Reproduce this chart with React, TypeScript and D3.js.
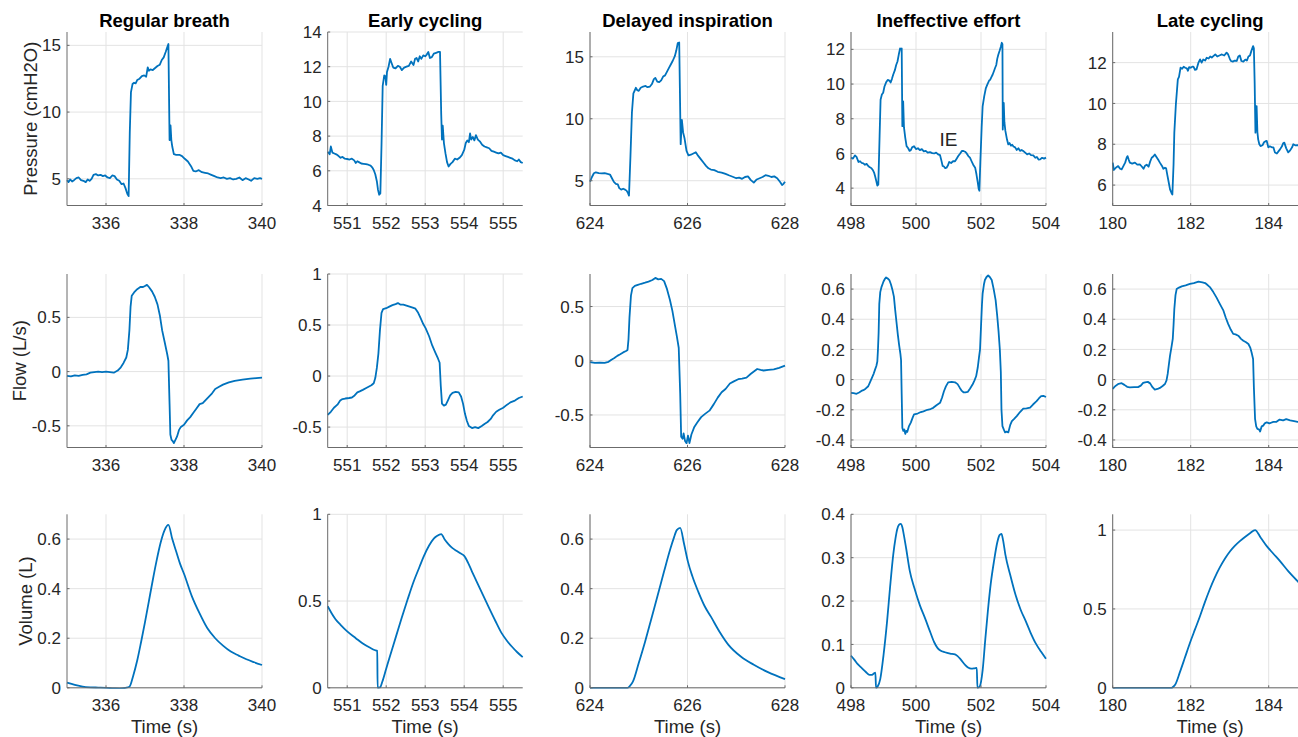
import React from "react";
import * as d3 from "d3";

type Pt = [number, number];

const titles = ["Regular breath", "Early cycling", "Delayed inspiration", "Ineffective effort", "Late cycling"];
const rowLabels = ["Pressure (cmH2O)", "Flow (L/s)", "Volume (L)"];
const xLabel = "Time (s)";

const xDomains: Pt[] = [[335, 340], [550.5, 555.5], [624, 628], [498, 504], [180, 185]];
const xTicks = [[336, 338, 340], [551, 552, 553, 554, 555], [624, 626, 628], [498, 500, 502, 504], [180, 182, 184]];

const pressureDomains: Pt[] = [[3, 16], [4, 14], [3, 17], [3, 13], [5, 13.5]];
const pressureTicks = [[5, 10, 15], [4, 6, 8, 10, 12, 14], [5, 10, 15], [4, 6, 8, 10, 12], [6, 8, 10, 12]];
const flowDomains: Pt[] = [[-0.7, 0.9], [-0.7, 1], [-0.8, 0.8], [-0.45, 0.7], [-0.45, 0.7]];
const flowTicks = [[-0.5, 0, 0.5], [-0.5, 0, 0.5, 1], [-0.5, 0, 0.5], [-0.4, -0.2, 0, 0.2, 0.4, 0.6], [-0.4, -0.2, 0, 0.2, 0.4, 0.6]];
const volumeDomains: Pt[] = [[0, 0.7], [0, 1], [0, 0.7], [0, 0.4], [0, 1.1]];
const volumeTicks = [[0, 0.2, 0.4, 0.6], [0, 0.5, 1], [0, 0.2, 0.4, 0.6], [0, 0.1, 0.2, 0.3, 0.4], [0, 0.5, 1]];

const annotationText = "IE";
const annotationPoint: Pt = [501.0, 6.85];

// ---------- Regular breath ----------
const pressureRegular: Pt[] = [
[335.00,4.9],[335.04,4.75],[335.08,4.95],[335.13,4.8],[335.18,4.9],[335.24,5.05],[335.3,5.1],[335.36,4.9],[335.42,4.85],[335.48,4.75],[335.53,4.95],[335.58,4.85],[335.63,5.0],[335.68,5.3],[335.74,5.35],[335.8,5.25],[335.86,5.3],[335.92,5.2],[335.98,5.25],[336.04,5.1],[336.1,5.05],[336.16,5.25],[336.22,5.2],[336.28,4.95],[336.34,4.85],[336.4,4.6],[336.45,4.65],[336.5,4.3],[336.55,3.85],[336.58,3.7],[336.61,8.5],[336.64,11.5],[336.68,12.1],[336.72,12.2],[336.76,12.15],[336.8,12.4],[336.86,12.5],[336.92,12.7],[336.98,12.75],[337.03,12.65],[337.07,13.35],[337.1,13.1],[337.14,13.2],[337.2,13.15],[337.26,13.3],[337.32,13.45],[337.38,13.55],[337.43,13.9],[337.48,14.1],[337.53,14.5],[337.57,14.85],[337.6,15.1],[337.63,7.9],[337.655,9.0],[337.675,7.9],[337.7,7.4],[337.74,6.85],[337.8,6.8],[337.88,6.8],[337.95,6.7],[338.02,6.5],[338.1,6.3],[338.18,5.95],[338.24,5.6],[338.3,5.55],[338.38,5.65],[338.46,5.5],[338.54,5.45],[338.62,5.4],[338.7,5.3],[338.78,5.2],[338.86,5.1],[338.94,5.05],[339.02,5.1],[339.1,5.0],[339.18,5.05],[339.26,4.95],[339.34,5.0],[339.42,5.1],[339.5,4.9],[339.58,5.05],[339.66,4.95],[339.72,4.85],[339.8,5.05],[339.88,5.0],[339.95,5.05],[340,5.0]
];
const flowRegular: Pt[] = [
[335,-0.04],[335.1,-0.045],[335.2,-0.035],[335.3,-0.04],[335.4,-0.03],[335.5,-0.025],[335.6,-0.01],[335.7,-0.005],[335.8,0],[335.9,-0.005],[336.0,0],[336.1,-0.005],[336.2,-0.01],[336.3,0.01],[336.38,0.04],[336.45,0.08],[336.52,0.13],[336.56,0.2],[336.6,0.38],[336.63,0.6],[336.66,0.7],[336.72,0.73],[336.8,0.76],[336.88,0.78],[336.95,0.78],[337.0,0.79],[337.05,0.8],[337.1,0.78],[337.18,0.74],[337.25,0.69],[337.32,0.62],[337.38,0.52],[337.44,0.38],[337.5,0.28],[337.57,0.16],[337.6,0.1],[337.63,-0.3],[337.65,-0.58],[337.68,-0.63],[337.71,-0.64],[337.74,-0.66],[337.78,-0.63],[337.82,-0.6],[337.87,-0.54],[337.92,-0.51],[338.0,-0.49],[338.08,-0.45],[338.16,-0.42],[338.24,-0.38],[338.32,-0.34],[338.4,-0.3],[338.48,-0.29],[338.56,-0.26],[338.64,-0.23],[338.72,-0.2],[338.8,-0.16],[338.9,-0.14],[339.0,-0.12],[339.15,-0.1],[339.3,-0.085],[339.5,-0.075],[339.7,-0.065],[339.85,-0.06],[340,-0.055]
];
const volumeRegular: Pt[] = [
[335,0.021],[335.2,0.012],[335.4,0.005],[335.6,0.002],[335.8,0.001],[336.0,0.0],[336.2,-0.002],[336.35,-0.003],[336.5,0.0],[336.6,0.004],[336.7,0.05],[336.8,0.11],[336.9,0.185],[337.0,0.265],[337.1,0.35],[337.2,0.435],[337.3,0.515],[337.4,0.585],[337.5,0.635],[337.6,0.657],[337.7,0.6],[337.8,0.55],[337.9,0.5],[338.0,0.46],[338.2,0.37],[338.4,0.3],[338.6,0.24],[338.8,0.2],[339.0,0.17],[339.2,0.146],[339.4,0.13],[339.6,0.115],[339.8,0.103],[340,0.092]
];

// ---------- Early cycling ----------
const pressureEarly: Pt[] = [
[550.5,7.1],[550.55,6.95],[550.58,7.4],[550.62,7.05],[550.67,7.0],[550.72,6.95],[550.78,6.85],[550.83,6.75],[550.88,6.8],[550.94,6.7],[551.0,6.68],[551.06,6.65],[551.12,6.7],[551.18,6.6],[551.22,6.45],[551.26,6.55],[551.3,6.5],[551.36,6.42],[551.42,6.4],[551.48,6.38],[551.54,6.35],[551.6,6.3],[551.64,6.2],[551.68,6.05],[551.72,5.8],[551.76,5.4],[551.79,4.9],[551.82,4.62],[551.85,4.7],[551.88,7.5],[551.91,10.9],[551.95,11.5],[551.98,11.45],[552.0,10.95],[552.02,11.7],[552.06,12.0],[552.1,12.45],[552.14,12.2],[552.18,11.95],[552.24,11.9],[552.3,12.05],[552.35,12.0],[552.4,11.8],[552.46,11.95],[552.52,12.0],[552.58,12.05],[552.64,12.3],[552.7,12.1],[552.74,12.45],[552.78,12.5],[552.82,12.3],[552.86,12.6],[552.9,12.45],[552.95,12.65],[553.0,12.6],[553.04,12.7],[553.08,12.85],[553.12,12.5],[553.17,12.55],[553.22,12.75],[553.28,12.8],[553.34,12.85],[553.38,12.85],[553.41,9.3],[553.43,7.8],[553.45,8.6],[553.48,7.6],[553.52,7.0],[553.56,6.5],[553.6,6.25],[553.65,6.4],[553.7,6.5],[553.76,6.7],[553.82,6.65],[553.88,6.75],[553.94,6.9],[554.0,7.2],[554.04,7.6],[554.08,7.75],[554.12,7.65],[554.15,8.15],[554.18,7.8],[554.22,7.95],[554.26,7.75],[554.3,8.05],[554.35,7.8],[554.4,7.7],[554.46,7.5],[554.52,7.4],[554.58,7.35],[554.64,7.3],[554.7,7.15],[554.76,7.1],[554.82,7.05],[554.88,7.0],[554.94,7.05],[555.0,6.9],[555.06,6.85],[555.12,6.8],[555.18,6.75],[555.24,6.7],[555.3,6.6],[555.36,6.55],[555.4,6.65],[555.45,6.5],[555.5,6.45]
];
const flowEarly: Pt[] = [
[550.5,-0.38],[550.58,-0.35],[550.66,-0.31],[550.75,-0.28],[550.82,-0.24],[550.88,-0.225],[550.95,-0.22],[551.05,-0.215],[551.12,-0.21],[551.19,-0.19],[551.26,-0.16],[551.32,-0.15],[551.4,-0.135],[551.5,-0.115],[551.62,-0.09],[551.68,-0.07],[551.72,-0.02],[551.76,0.08],[551.8,0.22],[551.84,0.45],[551.88,0.62],[551.92,0.655],[552.0,0.665],[552.08,0.68],[552.16,0.695],[552.24,0.705],[552.3,0.715],[552.36,0.7],[552.44,0.7],[552.52,0.69],[552.6,0.68],[552.68,0.67],[552.75,0.66],[552.82,0.62],[552.88,0.57],[552.95,0.51],[553.01,0.47],[553.1,0.39],[553.18,0.3],[553.26,0.23],[553.33,0.17],[553.37,0.13],[553.4,-0.1],[553.43,-0.27],[553.48,-0.29],[553.53,-0.28],[553.58,-0.24],[553.64,-0.19],[553.7,-0.165],[553.78,-0.155],[553.86,-0.16],[553.92,-0.2],[553.97,-0.27],[554.02,-0.37],[554.07,-0.44],[554.12,-0.49],[554.2,-0.51],[554.28,-0.5],[554.36,-0.51],[554.45,-0.49],[554.52,-0.47],[554.6,-0.45],[554.68,-0.42],[554.74,-0.385],[554.82,-0.35],[554.9,-0.33],[555.0,-0.31],[555.1,-0.28],[555.2,-0.255],[555.3,-0.24],[555.4,-0.215],[555.5,-0.2]
];
const volumeEarly: Pt[] = [
[550.5,0.47],[550.6,0.43],[550.7,0.395],[550.83,0.363],[551.0,0.325],[551.22,0.286],[551.4,0.255],[551.6,0.229],[551.7,0.218],[551.77,0.213],[551.78,0.0],[551.84,0.002],[551.9,0.035],[552.0,0.11],[552.1,0.185],[552.25,0.295],[552.4,0.405],[552.55,0.51],[552.7,0.61],[552.85,0.695],[552.96,0.756],[553.1,0.82],[553.22,0.86],[553.3,0.875],[553.41,0.886],[553.5,0.855],[553.6,0.827],[553.7,0.805],[553.8,0.79],[553.9,0.775],[554.0,0.76],[554.1,0.72],[554.2,0.67],[554.32,0.612],[554.48,0.535],[554.64,0.459],[554.8,0.385],[554.96,0.315],[555.1,0.27],[555.22,0.238],[555.36,0.205],[555.5,0.177]
];

// ---------- Delayed inspiration ----------
const pressureDelayed: Pt[] = [
[624,4.92],[624.04,5.3],[624.08,5.6],[624.12,5.68],[624.18,5.62],[624.24,5.6],[624.3,5.62],[624.36,5.55],[624.41,5.5],[624.45,5.2],[624.49,4.9],[624.53,4.75],[624.57,4.7],[624.6,4.4],[624.64,4.28],[624.68,4.35],[624.72,4.28],[624.75,4.2],[624.78,4.0],[624.8,3.8],[624.83,7.0],[624.86,10.5],[624.89,12.05],[624.92,12.3],[624.94,12.5],[624.97,12.3],[625.0,12.25],[625.04,12.5],[625.09,12.6],[625.14,12.65],[625.18,12.55],[625.23,12.6],[625.27,12.8],[625.31,13.2],[625.34,13.3],[625.38,13.0],[625.42,12.95],[625.46,13.1],[625.5,13.4],[625.54,13.5],[625.58,13.8],[625.62,14.1],[625.66,14.4],[625.7,14.7],[625.74,15.05],[625.77,15.5],[625.8,16.1],[625.83,16.15],[625.86,7.95],[625.885,9.9],[625.91,8.9],[625.94,8.4],[625.98,7.4],[626.02,7.05],[626.07,7.1],[626.12,7.2],[626.17,7.3],[626.22,7.0],[626.28,6.7],[626.33,6.45],[626.38,6.2],[626.43,6.0],[626.48,5.9],[626.55,5.85],[626.62,5.72],[626.7,5.66],[626.78,5.55],[626.86,5.42],[626.94,5.3],[627.0,5.2],[627.06,5.25],[627.12,5.15],[627.18,5.3],[627.24,5.35],[627.3,5.05],[627.36,4.85],[627.42,5.1],[627.48,5.2],[627.54,5.3],[627.6,5.45],[627.66,5.4],[627.72,5.3],[627.78,5.35],[627.84,5.2],[627.9,4.9],[627.94,4.65],[627.97,4.75],[628,4.92]
];
const flowDelayed: Pt[] = [
[624,-0.012],[624.1,-0.02],[624.2,-0.018],[624.3,-0.02],[624.38,-0.01],[624.44,0.01],[624.5,0.025],[624.56,0.045],[624.62,0.06],[624.68,0.077],[624.74,0.09],[624.77,0.1],[624.79,0.2],[624.81,0.4],[624.84,0.6],[624.87,0.67],[624.92,0.69],[624.98,0.7],[625.05,0.71],[625.13,0.72],[625.2,0.73],[625.28,0.745],[625.34,0.764],[625.4,0.75],[625.46,0.755],[625.52,0.734],[625.58,0.66],[625.64,0.56],[625.69,0.46],[625.74,0.33],[625.78,0.23],[625.82,0.12],[625.85,-0.3],[625.87,-0.7],[625.9,-0.72],[625.92,-0.67],[625.95,-0.74],[625.98,-0.76],[626.01,-0.69],[626.04,-0.76],[626.08,-0.68],[626.14,-0.61],[626.2,-0.57],[626.28,-0.52],[626.36,-0.49],[626.45,-0.46],[626.54,-0.4],[626.62,-0.34],[626.7,-0.29],[626.78,-0.26],[626.87,-0.21],[626.95,-0.19],[627.04,-0.17],[627.12,-0.165],[627.21,-0.155],[627.3,-0.12],[627.43,-0.076],[627.5,-0.085],[627.56,-0.09],[627.66,-0.085],[627.77,-0.08],[627.88,-0.065],[628,-0.045]
];
const volumeDelayed: Pt[] = [
[624,0],[624.5,0],[624.77,0],[624.82,0.008],[624.88,0.025],[625.0,0.1],[625.13,0.186],[625.26,0.28],[625.39,0.374],[625.52,0.47],[625.65,0.562],[625.72,0.605],[625.78,0.636],[625.85,0.645],[625.93,0.58],[626.01,0.508],[626.1,0.45],[626.22,0.388],[626.35,0.33],[626.48,0.287],[626.66,0.225],[626.84,0.173],[627.1,0.125],[627.36,0.093],[627.65,0.063],[628,0.035]
];

// ---------- Ineffective effort ----------
const pressureIneffective: Pt[] = [
[498,5.76],[498.06,5.7],[498.12,5.89],[498.17,5.8],[498.23,5.51],[498.28,5.55],[498.33,5.45],[498.38,5.43],[498.43,5.35],[498.48,5.4],[498.53,5.28],[498.58,5.2],[498.63,5.15],[498.67,5.05],[498.71,4.9],[498.74,4.7],[498.78,4.4],[498.81,4.15],[498.84,4.2],[498.88,7.0],[498.91,9.1],[498.95,9.4],[498.99,9.5],[499.03,9.86],[499.08,10.1],[499.13,10.24],[499.18,10.2],[499.22,10.09],[499.26,10.3],[499.3,10.55],[499.35,10.8],[499.39,11.1],[499.43,11.3],[499.47,11.7],[499.51,12.05],[499.54,12.0],[499.56,12.05],[499.58,7.57],[499.605,9.0],[499.63,7.5],[499.67,6.9],[499.71,6.42],[499.76,6.3],[499.8,6.15],[499.84,6.19],[499.88,6.35],[499.94,6.42],[500.0,6.25],[500.06,6.3],[500.12,6.19],[500.18,6.25],[500.24,6.12],[500.3,6.15],[500.36,6.05],[500.43,6.08],[500.5,6.02],[500.56,6.0],[500.62,6.05],[500.68,5.95],[500.74,5.9],[500.78,5.6],[500.82,5.28],[500.86,5.25],[500.9,5.15],[500.94,5.18],[500.98,5.3],[501.02,5.51],[501.08,5.45],[501.14,5.55],[501.2,5.55],[501.25,5.7],[501.3,5.85],[501.36,6.0],[501.41,6.14],[501.46,6.14],[501.51,6.1],[501.56,6.0],[501.61,5.85],[501.66,5.76],[501.71,5.55],[501.76,5.35],[501.82,5.18],[501.86,4.8],[501.9,4.33],[501.93,3.95],[501.95,3.85],[501.98,5.5],[502.02,7.5],[502.05,8.71],[502.1,9.3],[502.15,9.77],[502.2,10.0],[502.25,10.2],[502.28,10.24],[502.32,10.4],[502.36,10.55],[502.4,10.75],[502.43,10.91],[502.47,11.1],[502.5,11.45],[502.53,11.67],[502.57,11.9],[502.61,12.15],[502.64,12.38],[502.66,12.3],[502.67,7.38],[502.7,8.91],[502.72,7.8],[502.75,7.3],[502.8,6.8],[502.84,6.52],[502.88,6.6],[502.92,6.45],[502.96,6.5],[503.0,6.4],[503.05,6.35],[503.1,6.2],[503.15,6.3],[503.2,6.15],[503.25,6.2],[503.3,6.14],[503.36,6.05],[503.42,5.95],[503.48,6.0],[503.54,5.9],[503.61,5.89],[503.67,5.75],[503.72,5.8],[503.77,5.65],[503.82,5.66],[503.88,5.75],[503.94,5.7],[504,5.76]
];
const flowIneffective: Pt[] = [
[498,-0.088],[498.08,-0.09],[498.17,-0.094],[498.25,-0.085],[498.32,-0.075],[498.38,-0.07],[498.45,-0.06],[498.53,-0.044],[498.58,-0.02],[498.64,0.01],[498.7,0.04],[498.74,0.066],[498.78,0.09],[498.81,0.12],[498.83,0.2],[498.85,0.31],[498.87,0.5],[498.9,0.58],[498.94,0.615],[499.0,0.65],[499.05,0.67],[499.08,0.677],[499.13,0.67],[499.18,0.66],[499.23,0.63],[499.28,0.59],[499.32,0.55],[499.36,0.46],[499.4,0.38],[499.44,0.3],[499.48,0.23],[499.52,0.17],[499.54,0.13],[499.56,-0.1],[499.58,-0.32],[499.61,-0.34],[499.64,-0.33],[499.67,-0.36],[499.7,-0.34],[499.73,-0.347],[499.78,-0.31],[499.84,-0.285],[499.9,-0.25],[499.94,-0.23],[500.05,-0.225],[500.15,-0.215],[500.23,-0.21],[500.35,-0.2],[500.45,-0.195],[500.53,-0.187],[500.63,-0.17],[500.74,-0.154],[500.8,-0.12],[500.86,-0.077],[500.92,-0.045],[500.99,-0.018],[501.1,-0.015],[501.2,-0.018],[501.28,-0.03],[501.35,-0.055],[501.41,-0.075],[501.46,-0.084],[501.52,-0.085],[501.59,-0.082],[501.66,-0.06],[501.74,-0.033],[501.8,-0.005],[501.85,0.022],[501.9,0.08],[501.94,0.15],[501.97,0.198],[502.0,0.35],[502.03,0.5],[502.05,0.57],[502.09,0.63],[502.12,0.66],[502.17,0.68],[502.22,0.69],[502.27,0.68],[502.33,0.66],[502.39,0.6],[502.45,0.527],[502.5,0.42],[502.54,0.32],[502.58,0.198],[502.61,0.05],[502.63,-0.2],[502.66,-0.308],[502.7,-0.33],[502.74,-0.35],[502.79,-0.345],[502.84,-0.35],[502.9,-0.3],[502.95,-0.275],[503.02,-0.26],[503.1,-0.242],[503.2,-0.215],[503.3,-0.193],[503.4,-0.19],[503.51,-0.185],[503.6,-0.165],[503.71,-0.143],[503.78,-0.125],[503.85,-0.11],[503.92,-0.108],[504,-0.115]
];
const volumeIneffective: Pt[] = [
[498,0.074],[498.1,0.065],[498.2,0.055],[498.34,0.045],[498.45,0.037],[498.57,0.03],[498.65,0.03],[498.7,0.033],[498.75,0.035],[498.77,0.0],[498.82,0.003],[498.9,0.02],[499.0,0.075],[499.11,0.153],[499.2,0.23],[499.3,0.307],[499.37,0.345],[499.42,0.365],[499.48,0.376],[499.53,0.378],[499.58,0.37],[499.62,0.355],[499.7,0.32],[499.81,0.269],[499.95,0.23],[500.12,0.19],[500.28,0.16],[500.43,0.13],[500.56,0.105],[500.66,0.092],[500.75,0.086],[500.89,0.082],[501.05,0.079],[501.2,0.077],[501.28,0.073],[501.38,0.065],[501.51,0.053],[501.6,0.047],[501.7,0.044],[501.8,0.045],[501.87,0.046],[501.89,0.0],[501.96,0.003],[502.05,0.04],[502.13,0.11],[502.21,0.176],[502.3,0.24],[502.4,0.292],[502.5,0.335],[502.57,0.352],[502.63,0.355],[502.68,0.34],[502.75,0.307],[502.9,0.26],[503.06,0.215],[503.22,0.18],[503.38,0.153],[503.52,0.128],[503.68,0.103],[503.85,0.083],[504,0.067]
];

// ---------- Late cycling ----------
const pressureLate: Pt[] = [
[180,7.1],[180.03,6.74],[180.08,6.85],[180.14,6.93],[180.19,6.8],[180.23,6.77],[180.28,6.95],[180.32,7.1],[180.36,7.35],[180.38,7.42],[180.41,7.25],[180.44,7.1],[180.5,7.05],[180.57,7.1],[180.63,7.0],[180.7,7.01],[180.75,6.9],[180.79,6.8],[180.83,6.95],[180.87,7.0],[180.92,6.9],[180.96,7.15],[181.0,7.34],[181.04,7.4],[181.08,7.5],[181.13,7.35],[181.18,7.2],[181.21,7.1],[181.26,6.95],[181.3,6.8],[181.34,6.85],[181.37,6.82],[181.4,6.5],[181.43,6.2],[181.47,5.79],[181.51,5.6],[181.53,5.54],[181.56,7.0],[181.58,8.57],[181.62,9.96],[181.67,11.18],[181.7,11.3],[181.74,11.75],[181.78,11.7],[181.82,11.8],[181.86,11.75],[181.9,11.72],[181.93,11.6],[181.96,11.78],[182.0,11.75],[182.04,11.8],[182.07,11.8],[182.11,11.65],[182.15,11.67],[182.2,12.0],[182.24,12.16],[182.28,12.0],[182.32,12.15],[182.37,12.1],[182.41,12.24],[182.46,12.2],[182.5,12.3],[182.54,12.25],[182.58,12.32],[182.63,12.4],[182.68,12.3],[182.75,12.36],[182.8,12.4],[182.86,12.35],[182.92,12.49],[182.96,12.4],[183.0,12.2],[183.03,12.08],[183.08,12.05],[183.13,12.1],[183.18,12.08],[183.22,12.3],[183.26,12.35],[183.3,12.08],[183.35,12.05],[183.4,12.15],[183.44,12.1],[183.48,12.3],[183.52,12.35],[183.56,12.6],[183.6,12.81],[183.62,12.7],[183.64,11.0],[183.66,8.57],[183.69,9.87],[183.71,8.6],[183.73,8.24],[183.76,8.0],[183.79,7.91],[183.84,7.95],[183.88,8.1],[183.92,8.15],[183.95,8.16],[183.99,7.85],[184.03,7.9],[184.08,7.85],[184.12,7.85],[184.16,7.6],[184.21,7.55],[184.25,7.65],[184.29,7.75],[184.34,7.9],[184.37,8.05],[184.4,8.08],[184.45,7.8],[184.5,7.6],[184.55,7.7],[184.6,7.85],[184.63,8.0],[184.68,7.95],[184.74,7.96],[184.8,7.9]
];
const flowLate: Pt[] = [
[180,-0.062],[180.04,-0.05],[180.08,-0.04],[180.15,-0.028],[180.23,-0.024],[180.3,-0.035],[180.37,-0.048],[180.44,-0.051],[180.55,-0.05],[180.65,-0.05],[180.72,-0.04],[180.78,-0.022],[180.83,-0.018],[180.9,-0.015],[180.96,-0.025],[181.02,-0.05],[181.08,-0.066],[181.15,-0.062],[181.21,-0.055],[181.28,-0.042],[181.34,-0.029],[181.38,-0.005],[181.41,0.038],[181.44,0.1],[181.47,0.159],[181.51,0.22],[181.54,0.27],[181.56,0.36],[181.58,0.468],[181.61,0.56],[181.64,0.6],[181.7,0.61],[181.77,0.618],[181.87,0.625],[181.98,0.634],[182.08,0.64],[182.2,0.649],[182.3,0.645],[182.37,0.64],[182.44,0.625],[182.5,0.611],[182.58,0.58],[182.66,0.545],[182.75,0.5],[182.84,0.457],[182.9,0.41],[182.96,0.369],[183.03,0.33],[183.09,0.303],[183.15,0.3],[183.22,0.291],[183.29,0.27],[183.35,0.258],[183.42,0.248],[183.48,0.236],[183.53,0.21],[183.56,0.181],[183.6,0.137],[183.62,-0.05],[183.65,-0.26],[183.68,-0.31],[183.71,-0.326],[183.75,-0.33],[183.78,-0.344],[183.82,-0.31],[183.86,-0.305],[183.9,-0.29],[183.95,-0.283],[184.02,-0.29],[184.12,-0.28],[184.2,-0.28],[184.28,-0.265],[184.37,-0.27],[184.45,-0.262],[184.55,-0.27],[184.65,-0.275],[184.74,-0.28],[184.8,-0.278]
];
const volumeLate: Pt[] = [
[180,0],[181.0,0],[181.51,0],[181.56,0.008],[181.6,0.019],[181.73,0.104],[181.85,0.19],[181.98,0.284],[182.11,0.37],[182.24,0.455],[182.36,0.54],[182.49,0.625],[182.62,0.7],[182.75,0.765],[182.88,0.82],[183.01,0.866],[183.13,0.9],[183.26,0.93],[183.4,0.958],[183.52,0.98],[183.65,1.0],[183.8,0.95],[183.95,0.898],[184.12,0.85],[184.29,0.803],[184.5,0.74],[184.74,0.676],[184.8,0.66]
];

const seriesRows: Pt[][][] = [
  [pressureRegular, pressureEarly, pressureDelayed, pressureIneffective, pressureLate],
  [flowRegular, flowEarly, flowDelayed, flowIneffective, flowLate],
  [volumeRegular, volumeEarly, volumeDelayed, volumeIneffective, volumeLate],
];
const yDomainRows = [pressureDomains, flowDomains, volumeDomains];
const yTickRows = [pressureTicks, flowTicks, volumeTicks];

// ---------- layout (style) ----------
const COL_LEFT = [67, 327.7, 590, 851, 1112.7];
const ROW_TOP = [32, 274, 514.3];
const PW = 195;
const PH = 173.5;
const YLABEL_OFFSET = [30.5, 41.5, 35.5];
const FONT = "'Liberation Sans', Arial, Helvetica, sans-serif";
const LINE_COLOR = "#0072BD";
const GRID_COLOR = "#e3e3e3";
const AXIS_COLOR = "#6b6b6b";
const TEXT_COLOR = "#262626";

function Panel({ row, col }: { row: number; col: number }) {
  const x = d3.scaleLinear().domain(xDomains[col]).range([0, PW]);
  const y = d3.scaleLinear().domain(yDomainRows[row][col]).range([PH, 0]);
  const data = seriesRows[row][col];
  const line = d3
    .line<Pt>()
    .x((d) => x(d[0]))
    .y((d) => y(d[1]))
    .curve(row === 2 ? d3.curveMonotoneX : d3.curveLinear);
  const clipId = `clip-${row}-${col}`;
  const xt = xTicks[col];
  const yt = yTickRows[row][col];
  return (
    <g transform={`translate(${COL_LEFT[col]},${ROW_TOP[row]})`}>
      <defs>
        <clipPath id={clipId}>
          <rect x={-1} y={-1} width={PW + 2} height={PH + 2} />
        </clipPath>
      </defs>
      {xt.map((t) => (
        <line key={`gx${t}`} x1={x(t)} x2={x(t)} y1={0} y2={PH} stroke={GRID_COLOR} strokeWidth={1} />
      ))}
      {yt.map((t) => (
        <line key={`gy${t}`} x1={0} x2={PW} y1={y(t)} y2={y(t)} stroke={GRID_COLOR} strokeWidth={1} />
      ))}
      <path d={line(data) || ""} fill="none" stroke={LINE_COLOR} strokeWidth={1.8} strokeLinejoin="round" clipPath={`url(#${clipId})`} />
      <line x1={0} x2={0} y1={0} y2={PH} stroke={AXIS_COLOR} strokeWidth={1} />
      <line x1={0} x2={PW} y1={PH} y2={PH} stroke={AXIS_COLOR} strokeWidth={1} />
      {xt.map((t) => (
        <g key={`tx${t}`}>
          <line x1={x(t)} x2={x(t)} y1={PH} y2={PH - 2.5} stroke={AXIS_COLOR} strokeWidth={1} />
          <text x={x(t)} y={PH + 23} textAnchor="middle" fontSize={17} fill={TEXT_COLOR} fontFamily={FONT}>
            {String(t)}
          </text>
        </g>
      ))}
      {yt.map((t) => (
        <g key={`ty${t}`}>
          <line x1={0} x2={2.5} y1={y(t)} y2={y(t)} stroke={AXIS_COLOR} strokeWidth={1} />
          <text x={-6} y={y(t)} dy="0.36em" textAnchor="end" fontSize={17} fill={TEXT_COLOR} fontFamily={FONT}>
            {String(t)}
          </text>
        </g>
      ))}
      {row === 0 && (
        <text x={PW / 2} y={-5} textAnchor="middle" fontSize={18.5} fontWeight="bold" fill="#000" fontFamily={FONT}>
          {titles[col]}
        </text>
      )}
      {col === 0 && (
        <text
          transform={`translate(${-YLABEL_OFFSET[row]},${PH / 2}) rotate(-90)`}
          textAnchor="middle"
          fontSize={18.5}
          fill={TEXT_COLOR}
          fontFamily={FONT}
        >
          {rowLabels[row]}
        </text>
      )}
      {row === 2 && (
        <text x={PW / 2} y={PH + 45.5} textAnchor="middle" fontSize={18.5} fill={TEXT_COLOR} fontFamily={FONT}>
          {xLabel}
        </text>
      )}
      {row === 0 && col === 3 && (
        <text x={x(annotationPoint[0])} y={y(annotationPoint[1])} dy="0.36em" textAnchor="middle" fontSize={19} fill={TEXT_COLOR} fontFamily={FONT}>
          {annotationText}
        </text>
      )}
    </g>
  );
}

export default function App() {
  const rows = [0, 1, 2];
  const cols = [0, 1, 2, 3, 4];
  return (
    <svg
      width={1298}
      height={737}
      style={{ position: "absolute", left: 0, top: 0, display: "block", background: "#fff" }}
    >
      <rect x={0} y={0} width={1298} height={737} fill="#fff" />
      {rows.map((r) => cols.map((c) => <Panel key={`${r}-${c}`} row={r} col={c} />))}
    </svg>
  );
}
